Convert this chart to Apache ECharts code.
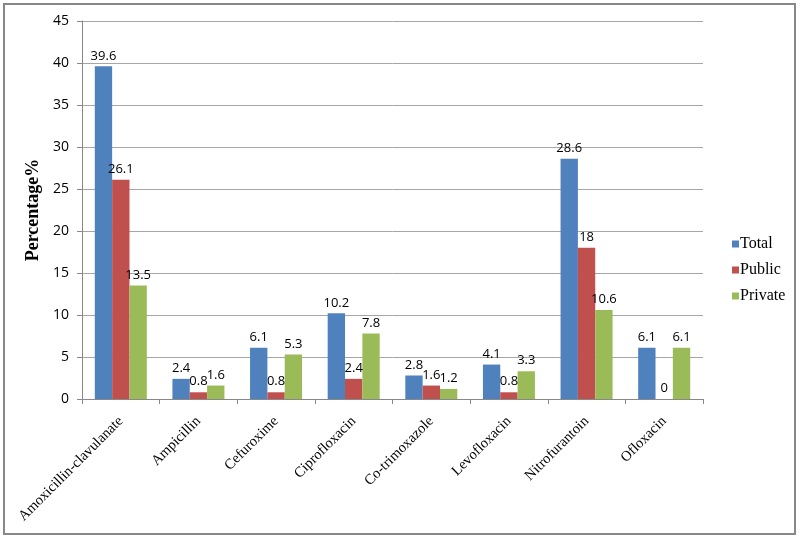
<!DOCTYPE html>
<html><head><meta charset="utf-8">
<script src="https://cdn.jsdelivr.net/npm/echarts@6/dist/echarts.min.js"></script>
<style>html,body{margin:0;padding:0;background:#fff}#c{width:800px;height:539px}</style>
</head><body><div id="c"></div>
<script>
const categories = ["Amoxicillin-clavulanate","Ampicillin","Cefuroxime","Ciprofloxacin","Co-trimoxazole","Levofloxacin","Nitrofurantoin","Ofloxacin"];
const total = [39.6, 2.4, 6.1, 10.2, 2.8, 4.1, 28.6, 6.1];
const publicS = [26.1, 0.8, 0.8, 2.4, 1.6, 0.8, 18, 0];
const privateS = [13.5, 1.6, 5.3, 7.8, 1.2, 3.3, 10.6, 6.1];
const seriesNames = ["Total","Public","Private"];
const colors = ["#4F81BD","#C0504D","#9BBB59"];
const serif = "Liberation Serif, Times New Roman, serif";
const sans = "Open Sans, Liberation Sans, sans-serif";

const chart = echarts.init(document.getElementById('c'));
const mk = (name, data, color) => ({
  name, type: 'bar', data, barGap: '0%', barCategoryGap: '33%',
  itemStyle: {color},
  label: {show: true, position: 'top', distance: 4, fontFamily: sans, fontSize: 13, color: '#000'}
});
chart.setOption({
  animation: false,
  textStyle: {fontFamily: serif},
  graphic: [{type: 'rect', shape: {x: 4, y: 4, width: 791, height: 530}, style: {fill: 'none', stroke: '#888', lineWidth: 2}, z: -1}],
  grid: {left: 82, right: 97, top: 21, bottom: 140},
  legend: {
    orient: 'vertical', left: 727, top: 231, itemWidth: 7, itemHeight: 7, itemGap: 10,
    icon: 'rect', data: seriesNames,
    textStyle: {fontFamily: serif, fontSize: 16, color: '#000', padding: [0,0,0,-4]}
  },
  xAxis: {
    type: 'category', data: categories,
    axisLine: {lineStyle: {color: '#888'}},
    axisTick: {show: true, length: 5, lineStyle: {color: '#888'}},
    axisLabel: {rotate: 45, interval: 0, fontFamily: serif, fontSize: 14.5, color: '#000', margin: 20}
  },
  yAxis: {
    type: 'value', min: 0, max: 45, interval: 5,
    name: 'Percentage%', nameLocation: 'middle', nameGap: 34,
    nameTextStyle: {fontFamily: serif, fontSize: 18, fontWeight: 'bold', color: '#000'},
    axisLine: {show: true, lineStyle: {color: '#888'}},
    axisTick: {show: true, length: 5, lineStyle: {color: '#888'}},
    axisLabel: {fontFamily: sans, fontSize: 14, color: '#000', margin: 13},
    splitLine: {lineStyle: {color: '#a6a6a6'}}
  },
  series: [mk(seriesNames[0], total, colors[0]), mk(seriesNames[1], publicS, colors[1]), mk(seriesNames[2], privateS, colors[2])]
});
</script></body></html>
